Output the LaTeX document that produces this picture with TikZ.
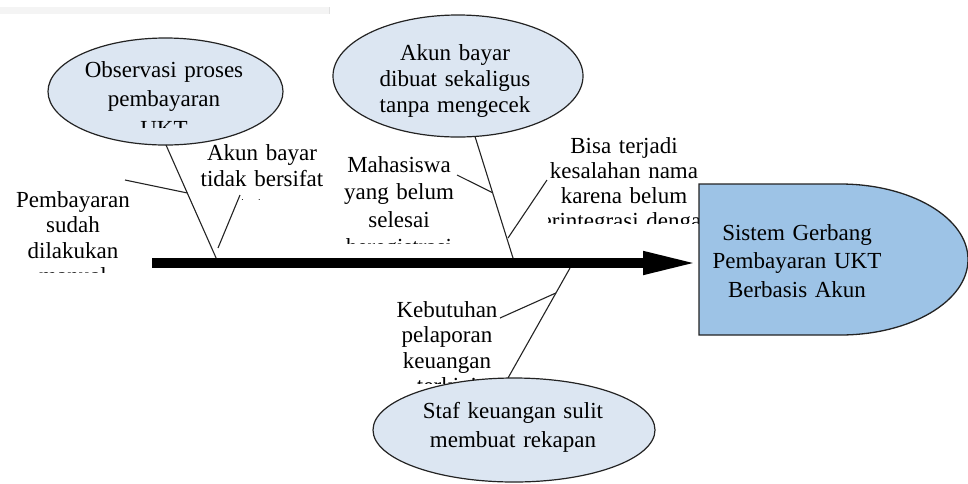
\documentclass[tikz,border=0pt]{standalone}
\usepackage{fontspec}
\setmainfont{Liberation Serif}
\usetikzlibrary{arrows.meta,shapes.geometric,calc}
\definecolor{ellfill}{RGB}{220,230,242}
\definecolor{headfill}{RGB}{157,195,230}
\definecolor{linec}{RGB}{35,35,35}
\definecolor{bandc}{RGB}{244,244,244}
\definecolor{bandedge}{RGB}{225,225,225}
\begin{document}
\begin{tikzpicture}[x=1pt,y=-1pt,
  ell/.style={ellipse, draw=linec, line width=1.2pt, fill=ellfill, inner sep=0pt},
  bone/.style={draw=linec, line width=1.1pt},
  spine/.style={draw=black, line width=10pt, -{Triangle[length=56pt,width=21pt]}},
  headbox/.style={draw=linec, line width=1.3pt, fill=headfill},
  txt/.style={font=\fontsize{23pt}{#1}\selectfont, text width=260pt, align=center, inner sep=0pt, anchor=base, text=black},
  txt/.default=26pt]
\useasboundingbox (0,0) rectangle (968,483);
% faint band at top
\fill[bandc] (0,7) rectangle (330,14);
\draw[bandedge, line width=1pt] (329.5,7) -- (329.5,14);

% ellipses (causes)
\node[ell, minimum width=235pt, minimum height=107pt] (e1) at (165.5,91.5) {};
\node[ell, minimum width=250pt, minimum height=122pt] (e2) at (458,76) {};

% spine coordinates
\coordinate (sp0) at (152,263);
\coordinate (hw) at (699,263);
\coordinate (s1) at (217,260);
\coordinate (s2) at (513,258);
\coordinate (s3) at (570,268);
\coordinate (e1b) at (166,145);
\coordinate (e2b) at (475,136.5);
\coordinate (e3t) at (508,378);

% bones
\draw[bone] (e1b) -- (s1);
\draw[bone] (e2b) -- (s2);
\draw[bone] (s3) -- (e3t);

% sub branches
\coordinate (p1a) at (125,180);
\coordinate (p1b) at ($(e1b)!0.417!(s1)$);
\coordinate (p2a) at (240,195);
\coordinate (p2b) at (218,248);
\coordinate (p3a) at (457,175);
\coordinate (p3b) at ($(e2b)!0.463!(s2)$);
\coordinate (p4a) at (547,180);
\coordinate (p4b) at (508,238);
\coordinate (p5a) at (500,318);
\coordinate (p5b) at ($(s3)!0.227!(e3t)$);
\draw[bone] (p1a) -- (p1b);
\draw[bone] (p2a) -- (p2b);
\draw[bone] (p3a) -- (p3b);
\draw[bone] (p4a) -- (p4b);
\draw[bone] (p5a) -- (p5b);

% texts
\begin{scope}
  \clip (0,0) rectangle (968,127);
  \node[txt=29.5pt] (tObs) at (164,77) {Observasi proses\\pembayaran\\UKT};
\end{scope}
\node[txt=26pt] (tDibuat) at (455,60) {Akun bayar\\dibuat sekaligus\\tanpa mengecek};
\begin{scope}
  \clip (180,130) rectangle (340,199);
  \node[txt=26pt] (tTidak) at (262,160) {Akun bayar\\tidak bersifat\\tetap};
\end{scope}
\begin{scope}
  \clip (0,180) rectangle (150,272);
  \node[txt=25.5pt] (tPemb) at (73,207) {Pembayaran\\sudah\\dilakukan\\manual};
\end{scope}
\begin{scope}
  \clip (330,140) rectangle (470,243);
  \node[txt=27.5pt] (tMhs) at (399,172) {Mahasiswa\\yang belum\\selesai\\heregistrasi};
\end{scope}
\begin{scope}
  \clip (548,120) rectangle (699,223);
  \node[txt=25pt] (tBisa) at (624,153) {Bisa terjadi\\kesalahan nama\\karena belum\\terintegrasi dengan};
\end{scope}
\begin{scope}
  \clip (380,290) rectangle (520,383);
  \node[txt=25.5pt] (tKeb) at (447,317) {Kebutuhan\\pelaporan\\keuangan\\terkini};
\end{scope}

% bottom ellipse
\node[ell, minimum width=282pt, minimum height=104pt] (e3) at (514,430) {};
\node[txt=29pt] (tStaf) at (513,418) {Staf keuangan sulit\\membuat rekapan};

% head
\draw[headbox] (699,184) -- (840,184) arc[start angle=90, end angle=-90, x radius=128pt, y radius=75.5pt] -- (699,335) -- cycle;
\node[txt=28.5pt] (tHead) at (797,240) {Sistem Gerbang\\Pembayaran UKT\\Berbasis Akun};

% spine
\draw[spine] (sp0) -- (hw);
\end{tikzpicture}
\end{document}
